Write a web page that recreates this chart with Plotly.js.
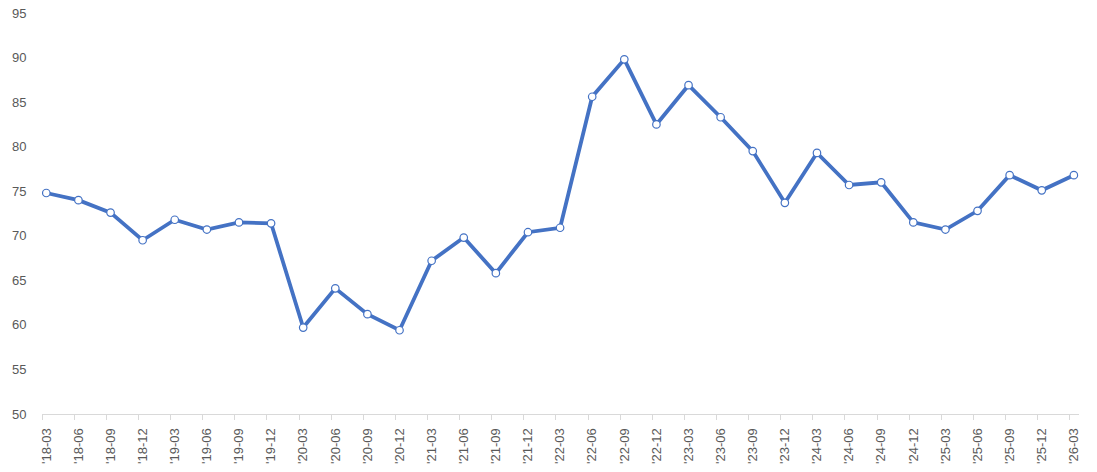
<!DOCTYPE html>
<html>
<head>
<meta charset="utf-8">
<script src="https://cdn.plot.ly/plotly-3.0.1.min.js"></script>
<style>html,body{margin:0;padding:0;background:#fff;}#chart{width:1097px;height:472px;}</style>
</head>
<body>
<div id="chart"></div>
<script>
const categories = ["'18-03","'18-06","'18-09","'18-12","'19-03","'19-06","'19-09","'19-12",
  "'20-03","'20-06","'20-09","'20-12","'21-03","'21-06","'21-09","'21-12",
  "'22-03","'22-06","'22-09","'22-12","'23-03","'23-06","'23-09","'23-12",
  "'24-03","'24-06","'24-09","'24-12","'25-03","'25-06","'25-09","'25-12","'26-03"];
const values = [74.8, 74.0, 72.6, 69.5, 71.8, 70.7, 71.5, 71.4,
  59.7, 64.1, 61.2, 59.4, 67.2, 69.8, 65.8, 70.4,
  70.9, 85.6, 89.8, 82.5, 86.9, 83.3, 79.5, 73.7,
  79.3, 75.7, 76.0, 71.5, 70.7, 72.8, 76.8, 75.1, 76.8];
const yTicks = [50, 55, 60, 65, 70, 75, 80, 85, 90, 95];

const idx = categories.map((_, i) => i);
const boundaryTicks = idx.map(i => i - 0.13);

const trace = {
  x: idx, y: values, type: 'scatter', mode: 'lines+markers',
  line: {color: '#4472C4', width: 3.8},
  marker: {size: 7.5, color: '#ffffff', line: {color: '#4472C4', width: 1.2}},
  hoverinfo: 'x+y'
};

const xr = [-0.134, 32.16];
const layout = {
  width: 1097, height: 472,
  margin: {l: 42, r: 18, t: 13, b: 58},
  paper_bgcolor: '#ffffff', plot_bgcolor: '#ffffff',
  showlegend: false,
  font: {family: 'Liberation Sans, Arial, sans-serif', color: '#595959', size: 12},
  xaxis: {
    range: xr, tickmode: 'array', tickvals: idx, ticktext: categories,
    tickangle: -90, ticks: 'outside', ticklen: 8, tickcolor: 'rgba(0,0,0,0)',
    showgrid: false, zeroline: false,
    showline: true, linecolor: '#D9D9D9', linewidth: 1,
    tickfont: {size: 13, color: '#595959'}
  },
  xaxis2: {
    overlaying: 'x', anchor: 'y', side: 'bottom',
    range: xr, tickmode: 'array', tickvals: boundaryTicks, ticktext: boundaryTicks.map(() => ''),
    ticks: 'outside', ticklen: 5, tickcolor: '#D9D9D9', showgrid: false, zeroline: false,
    showline: false, showticklabels: false
  },
  yaxis: {
    range: [50, 95], tickmode: 'array', tickvals: yTicks,
    ticks: 'outside', ticklen: 12, tickcolor: 'rgba(0,0,0,0)',
    showgrid: false, zeroline: false, showline: false,
    tickfont: {size: 13, color: '#595959'}
  }
};

const dummy = {x: [xr[0]], y: [50], xaxis: 'x2', yaxis: 'y', type: 'scatter', mode: 'markers',
  marker: {opacity: 0}, hoverinfo: 'skip', showlegend: false};

Plotly.newPlot('chart', [dummy, trace], layout, {displayModeBar: false, staticPlot: true});
</script>
</body>
</html>
